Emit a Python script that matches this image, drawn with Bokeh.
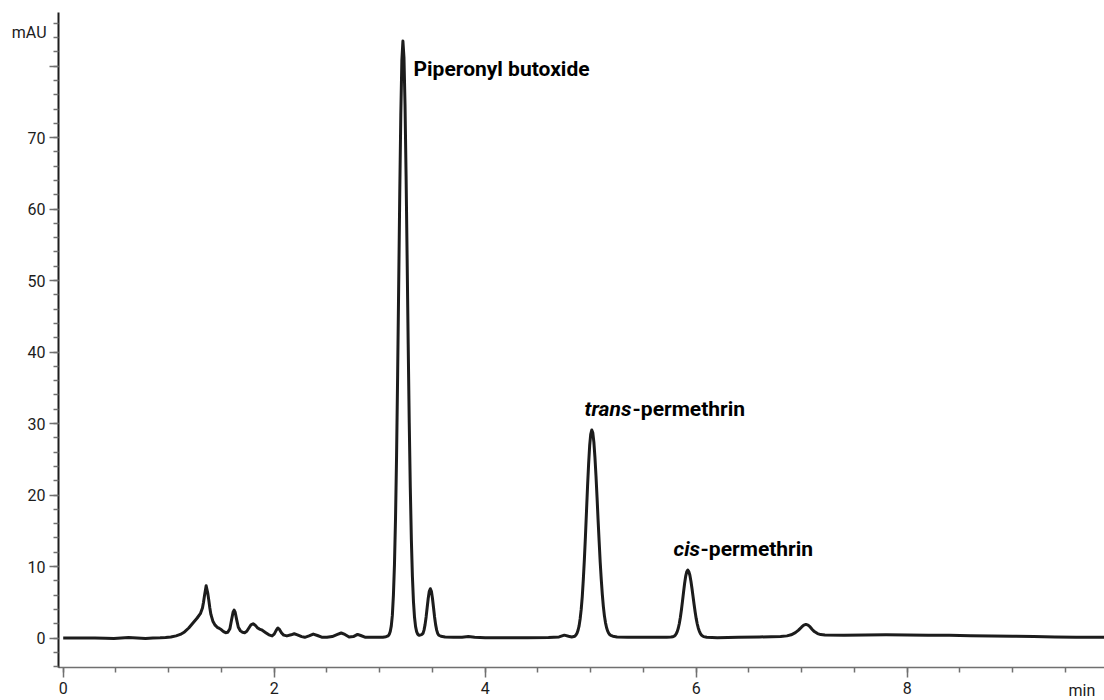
from bokeh.plotting import figure
from bokeh.models import ColumnDataSource, Range1d, FixedTicker, Label
from bokeh.embed import file_html
from bokeh.resources import INLINE

# ---- data (time in min, signal in mAU) ----
time_min = [
    0.00, 0.10, 0.20, 0.30, 0.40, 0.48, 0.55, 0.62, 0.70, 0.78, 0.85, 0.92, 0.97,
    1.02, 1.07, 1.11, 1.15, 1.19, 1.23, 1.27, 1.30, 1.32, 1.33, 1.34, 1.355, 1.37,
    1.38, 1.39, 1.40, 1.42, 1.44, 1.46, 1.48, 1.50, 1.52, 1.54, 1.56, 1.58, 1.595,
    1.61, 1.62, 1.63, 1.645, 1.66, 1.68, 1.70, 1.72, 1.74, 1.76, 1.78, 1.80, 1.82,
    1.84, 1.86, 1.88, 1.90, 1.92, 1.95, 1.98, 2.00, 2.02, 2.035, 2.05, 2.07, 2.09,
    2.12, 2.16, 2.19, 2.22, 2.26, 2.29, 2.33, 2.37, 2.41, 2.45, 2.50, 2.55, 2.60,
    2.635, 2.67, 2.71, 2.75, 2.79, 2.82, 2.86, 2.92, 2.98, 3.03, 3.06,
    3.08, 3.09, 3.10, 3.11, 3.12, 3.13, 3.14, 3.15, 3.16, 3.17, 3.18, 3.19, 3.20,
    3.21, 3.22, 3.23, 3.24, 3.25, 3.26, 3.27, 3.28, 3.29, 3.30, 3.31, 3.32, 3.33,
    3.34, 3.35, 3.36, 3.37, 3.38, 3.39, 3.40, 3.41, 3.42, 3.43, 3.44, 3.45, 3.46,
    3.47, 3.48, 3.49, 3.50, 3.51, 3.52, 3.53, 3.54, 3.55, 3.56, 3.58, 3.62, 3.70,
    3.78, 3.84, 3.90, 4.00, 4.20, 4.40, 4.60, 4.70, 4.75, 4.79, 4.82, 4.84,
    4.85, 4.86, 4.87, 4.88, 4.89, 4.90, 4.91, 4.92, 4.93, 4.94, 4.95, 4.96, 4.97,
    4.98, 4.99, 5.00, 5.01, 5.02, 5.03, 5.04, 5.05, 5.06, 5.07, 5.08, 5.09, 5.10,
    5.11, 5.12, 5.13, 5.14, 5.15, 5.16, 5.17, 5.18, 5.19, 5.21, 5.25, 5.35, 5.50,
    5.65, 5.72, 5.76, 5.78, 5.79, 5.80, 5.81, 5.82, 5.83, 5.84, 5.85, 5.86, 5.87,
    5.88, 5.89, 5.90, 5.91, 5.92, 5.93, 5.94, 5.95, 5.96, 5.97, 5.98, 5.99, 6.00,
    6.01, 6.02, 6.03, 6.04, 6.05, 6.06, 6.07, 6.10, 6.20, 6.40, 6.60, 6.80, 6.86,
    6.90, 6.94, 6.97, 7.00, 7.02, 7.04, 7.06, 7.08, 7.10, 7.12, 7.15, 7.18, 7.22,
    7.40, 7.60, 7.80, 8.00, 8.20, 8.40, 8.60, 8.80, 9.00, 9.20, 9.40, 9.60, 9.87,
]
absorbance_mau = [
    0.0, 0.0, 0.0, 0.0, -0.02, -0.08, 0.0, 0.06, 0.0, -0.07, 0.0, 0.03, 0.08,
    0.15, 0.3, 0.5, 0.85, 1.4, 2.1, 2.8, 3.4, 4.2, 5.0, 6.0, 7.3, 6.3,
    5.3, 4.2, 3.3, 2.3, 1.8, 1.5, 1.35, 1.15, 0.9, 0.75, 0.8, 1.3, 2.5,
    3.6, 3.9, 3.6, 2.5, 1.5, 1.0, 0.8, 0.75, 0.95, 1.4, 1.85, 2.0, 1.8,
    1.45, 1.25, 1.15, 0.95, 0.75, 0.45, 0.3, 0.55, 1.1, 1.4, 1.2, 0.7, 0.4,
    0.3, 0.45, 0.6, 0.45, 0.2, 0.1, 0.3, 0.55, 0.35, 0.12, 0.1, 0.2, 0.5,
    0.7, 0.5, 0.15, 0.2, 0.5, 0.35, 0.12, 0.1, 0.1, 0.12, 0.18,
    0.3, 0.5, 0.9, 1.7, 3.2, 6.0, 10.3, 16.8, 25.6, 36.8, 49.4, 62.1, 73.2,
    80.8, 83.5, 81.2, 74.6, 64.7, 53.1, 41.1, 30.1, 21.0, 13.8, 8.6, 5.1, 2.9,
    1.6, 0.9, 0.55, 0.4, 0.4, 0.45, 0.5, 0.64, 1.1, 1.87, 2.95, 4.27, 5.56,
    6.54, 6.9, 6.54, 5.56, 4.27, 2.95, 1.87, 1.1, 0.64, 0.39, 0.25, 0.15, 0.1,
    0.12, 0.2, 0.1, 0.05, 0.05, 0.05, 0.08, 0.15, 0.4, 0.25, 0.15, 0.2,
    0.27, 0.42, 0.67, 1.09, 1.7, 2.7, 4.0, 5.8, 8.2, 11.0, 14.2, 17.7, 21.2,
    24.3, 26.9, 28.5, 29.1, 28.7, 27.4, 25.3, 22.7, 19.7, 16.5, 13.5, 10.6, 8.2,
    6.1, 4.4, 3.1, 2.16, 1.47, 1.0, 0.69, 0.49, 0.37, 0.25, 0.15, 0.1, 0.1,
    0.1, 0.12, 0.15, 0.18, 0.25, 0.37, 0.57, 0.9, 1.37, 2.03, 2.9, 3.96, 5.17,
    6.43, 7.63, 8.62, 9.27, 9.5, 9.3, 8.78, 7.95, 6.92, 5.8, 4.68, 3.63, 2.71,
    1.96, 1.37, 0.94, 0.63, 0.42, 0.29, 0.2, 0.1, 0.05, 0.1, 0.15, 0.2, 0.3,
    0.45, 0.75, 1.1, 1.55, 1.8, 1.9, 1.8, 1.55, 1.2, 0.9, 0.62, 0.48, 0.42,
    0.4, 0.42, 0.45, 0.42, 0.4, 0.38, 0.33, 0.3, 0.25, 0.2, 0.15, 0.12, 0.1,
]

x_major_ticks = [0, 2, 4, 6, 8]
x_minor_ticks = [0.5 * i for i in range(0, 20)]
y_major_ticks = [0, 10, 20, 30, 40, 50, 60, 70, 80]
y_minor_ticks = [2 * i for i in range(-2, 44)]
y_unit_label = "mAU"
x_unit_label = "min"

# axis extents (data units) and view window
x_axis_span = (-0.0445, 9.87)
y_axis_span = (-4.1, 87.5)

# peak annotations: (italic prefix, bold rest) anchored at (peak time, peak height)
pbo_name = "Piperonyl butoxide"
pbo_peak = (3.22, 83.5)
trans_prefix, trans_rest = "trans", "-permethrin"
trans_peak = (5.01, 29.1)
cis_prefix, cis_rest = "cis", "-permethrin"
cis_peak = (5.92, 9.5)

FONT = "Roboto"
INK = "#1c1c1c"
TICK = "#707070"

source = ColumnDataSource(data=dict(t=time_min, a=absorbance_mau))

p = figure(
    width=1104, height=700,
    x_range=Range1d(-0.5943, 9.870), y_range=Range1d(-8.74, 89.18),
    output_backend="svg", toolbar_location=None,
    min_border_left=0, min_border_right=0, min_border_top=0, min_border_bottom=0,
)
p.outline_line_color = None
p.xgrid.grid_line_color = None
p.ygrid.grid_line_color = None
p.background_fill_color = "white"
p.border_fill_color = "white"

p.line("t", "a", source=source, line_color=INK, line_width=3.0, line_join="round")

# x axis (drawn at the bottom of the y extent)
xa = p.xaxis[0]
xa.fixed_location = y_axis_span[0]
xa.bounds = x_axis_span
xa.ticker = FixedTicker(ticks=x_major_ticks, minor_ticks=x_minor_ticks)
xa.axis_line_color = TICK
xa.axis_line_width = 1.5
xa.major_tick_line_color = TICK
xa.minor_tick_line_color = TICK
xa.major_tick_line_width = 1.5
xa.minor_tick_line_width = 1.5
xa.major_tick_out = 10
xa.major_tick_in = 0
xa.minor_tick_out = 5
xa.minor_tick_in = 0
xa.major_label_text_font = FONT
xa.major_label_text_font_size = "16px"
xa.major_label_text_color = INK
xa.major_label_standoff = 5

# y axis (drawn at the start of the x extent)
ya = p.yaxis[0]
ya.fixed_location = x_axis_span[0]
ya.bounds = y_axis_span
ya.ticker = FixedTicker(ticks=y_major_ticks, minor_ticks=y_minor_ticks)
ya.major_label_overrides = {80: ""}
ya.axis_line_color = INK
ya.axis_line_width = 2
ya.major_tick_line_color = TICK
ya.minor_tick_line_color = TICK
ya.major_tick_line_width = 1.5
ya.minor_tick_line_width = 1.5
ya.major_tick_out = 9
ya.major_tick_in = 0
ya.minor_tick_out = 5
ya.minor_tick_in = 0
ya.major_label_text_font = FONT
ya.major_label_text_font_size = "16px"
ya.major_label_text_color = INK
ya.major_label_standoff = 4

# unit labels
p.add_layout(Label(x=x_axis_span[0], y=84.7, x_offset=-12, text=y_unit_label,
                   text_align="right", text_baseline="middle", text_font=FONT,
                   text_font_size="16px", text_color=INK))
p.add_layout(Label(x=x_axis_span[1], y=y_axis_span[0], x_offset=-36, y_offset=-23,
                   text=x_unit_label, text_align="left", text_baseline="alphabetic",
                   text_font=FONT, text_font_size="16px", text_color=INK))

LBL = dict(text_baseline="middle", text_font=FONT, text_font_size="21px",
           text_color="black", text_align="left")

p.add_layout(Label(x=pbo_peak[0], y=pbo_peak[1], x_offset=10.6, y_offset=-27.5,
                   text=pbo_name, text_font_style="bold", **LBL))

W_TRANS = 48
p.add_layout(Label(x=trans_peak[0], y=trans_peak[1], x_offset=-7.2, y_offset=21.4,
                   text=trans_prefix, text_font_style="bold italic", **LBL))
p.add_layout(Label(x=trans_peak[0], y=trans_peak[1], x_offset=-7.2 + W_TRANS, y_offset=21.4,
                   text=trans_rest, text_font_style="bold", **LBL))

W_CIS = 27
p.add_layout(Label(x=cis_peak[0], y=cis_peak[1], x_offset=-14.2, y_offset=21.6,
                   text=cis_prefix, text_font_style="bold italic", **LBL))
p.add_layout(Label(x=cis_peak[0], y=cis_peak[1], x_offset=-14.2 + W_CIS, y_offset=21.6,
                   text=cis_rest, text_font_style="bold", **LBL))

open("out.html", "w").write(file_html(p, INLINE))
